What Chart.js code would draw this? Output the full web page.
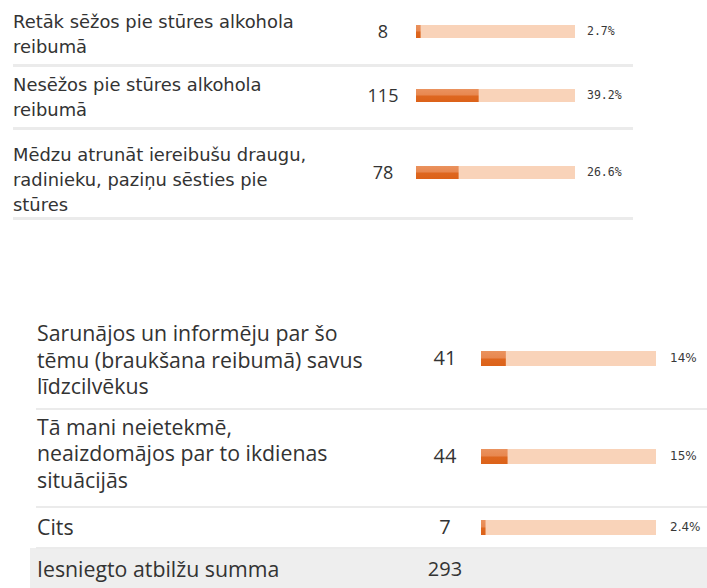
<!DOCTYPE html>
<html>
<head>
<meta charset="utf-8">
<script src="https://cdn.jsdelivr.net/npm/chart.js@4.4.1/dist/chart.umd.min.js"></script>
<style>
  body { margin: 0; background: #fff; }
  #wrap { position: relative; width: 707px; height: 588px; overflow: hidden; color: #333; }
  .lbl { position: absolute; white-space: pre; }
  .cnt { position: absolute; text-align: center; }
  .pct { position: absolute; color: #383838; }
  .sep { position: absolute; background: #ebebeb; }
  .bar { position: absolute; }
</style>
</head>
<body>
<div id="wrap">
  <div id="sumBg" style="position:absolute;left:30px;top:548px;width:677px;height:40px;background:#eeeeee;"></div>
</div>
<script>
// dati no attēla
const topLabels = [
  "Retāk sēžos pie stūres alkohola\nreibumā",
  "Nesēžos pie stūres alkohola\nreibumā",
  "Mēdzu atrunāt iereibušu draugu,\nradinieku, paziņu sēsties pie\nstūres"
];
const topCounts = [8, 115, 78];
const topPercents = [2.7, 39.2, 26.6];

const bottomLabels = [
  "Sarunājos un informēju par šo\ntēmu (braukšana reibumā) savus\nlīdzcilvēkus",
  "Tā mani neietekmē,\nneaizdomājos par to ikdienas\nsituācijās",
  "Cits"
];
const bottomCounts = [41, 44, 7];
const bottomPercents = [14, 15, 2.4];
const pctTicks = ["2.7%", "39.2%", "26.6%", "14%", "15%", "2.4%"];

const totalLabel = "Iesniegto atbilžu summa";
const totalCount = 293;

// izkārtojums
const topLayout = {
  labelX: 13, labelFont: '17.9px/25px "DejaVu Sans", sans-serif',
  countX: 383, countFont: '18px/30px "Open Sans", sans-serif',
  trackX: 416, trackW: 159, barH: 13, pctX: 587, pctFont: '11.5px/20px "DejaVu Sans Mono", monospace',
  sepX: 13, sepW: 620, sepH: 3,
  rows: [ { textTop: 8.5, barY: 31, sepY: 64 }, { textTop: 71.5, barY: 95, sepY: 127 }, { textTop: 141.5, barY: 172, sepY: 217 } ]
};
const bottomLayout = {
  labelX: 37, labelFont: '21.3px/26.5px "Open Sans", sans-serif',
  countX: 445, countFont: '20px/30px "Open Sans", sans-serif',
  trackX: 481, trackW: 175, barH: 15, pctX: 670, pctFont: '12px/20px "DejaVu Sans", sans-serif',
  sepX: 36, sepW: 671, sepH: 2,
  rows: [ { textTop: 320, barY: 358, sepY: 408 }, { textTop: 413.5, barY: 456, sepY: 506 }, { textTop: 513.5, barY: 527, sepY: 547 } ]
};

const wrap = document.getElementById("wrap");

function addDiv(cls, css, text) {
  const d = document.createElement("div");
  d.className = cls;
  Object.assign(d.style, css);
  if (text !== undefined) d.textContent = text;
  wrap.appendChild(d);
  return d;
}

function fillColor(ctx) {
  const area = ctx.chart.chartArea;
  if (!area) return "#e06a22";
  const g = ctx.chart.ctx.createLinearGradient(0, area.top, 0, area.bottom);
  g.addColorStop(0, "#ea925e");
  g.addColorStop(0.48, "#e8874f");
  g.addColorStop(0.52, "#de6720");
  g.addColorStop(1, "#dc6219");
  return g;
}

function makeBar(x, y, w, h, pct) {
  const box = addDiv("bar", { left: x + "px", top: (y - h / 2) + "px", width: w + "px", height: h + "px" });
  const cv = document.createElement("canvas");
  box.appendChild(cv);
  new Chart(cv, {
    type: "bar",
    data: {
      labels: [""],
      datasets: [
        { data: [pct], backgroundColor: fillColor, order: 0 },
        { data: [100], backgroundColor: "#f9d3b9", order: 1 }
      ]
    },
    options: {
      indexAxis: "y",
      responsive: true,
      maintainAspectRatio: false,
      animation: false,
      layout: { padding: 0 },
      datasets: { bar: { grouped: false, barPercentage: 1, categoryPercentage: 1, borderWidth: 0 } },
      plugins: { legend: { display: false }, tooltip: { enabled: false } },
      scales: {
        x: { min: 0, max: 100, display: false },
        y: { display: false }
      }
    }
  });
}

function buildSection(labels, counts, percents, ticks, L) {
  labels.forEach(function (lab, i) {
    const r = L.rows[i];
    addDiv("lbl", { left: L.labelX + "px", top: r.textTop + "px", font: L.labelFont }, lab);
    addDiv("cnt", { left: (L.countX - 40) + "px", width: "80px", top: (r.barY - 15) + "px", height: "30px", font: L.countFont }, String(counts[i]));
    makeBar(L.trackX, r.barY, L.trackW, L.barH, percents[i]);
    addDiv("pct", { left: L.pctX + "px", top: (r.barY - 10) + "px", height: "20px", font: L.pctFont }, ticks[i]);
    addDiv("sep", { left: L.sepX + "px", top: r.sepY + "px", width: L.sepW + "px", height: L.sepH + "px" });
  });
}

buildSection(topLabels, topCounts, topPercents, pctTicks.slice(0, 3), topLayout);
buildSection(bottomLabels, bottomCounts, bottomPercents, pctTicks.slice(3), bottomLayout);

// kopsumma
addDiv("lbl", { left: bottomLayout.labelX + "px", top: "555.5px", font: bottomLayout.labelFont }, totalLabel);
addDiv("cnt", { left: (bottomLayout.countX - 40) + "px", width: "80px", top: "554px", height: "30px", font: bottomLayout.countFont }, String(totalCount));
</script>
</body>
</html>
